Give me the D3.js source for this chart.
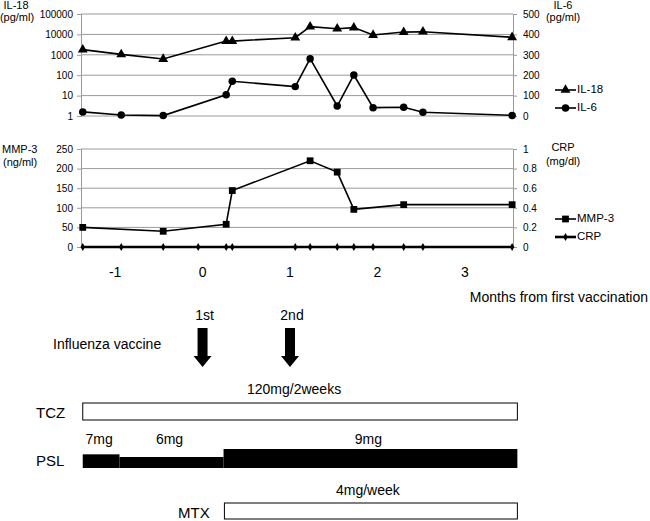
<!DOCTYPE html>
<html><head><meta charset="utf-8">
<script src="https://cdn.jsdelivr.net/npm/d3@7"></script>
<style>body{margin:0;background:#fff}svg{font-family:"Liberation Sans",Arial,sans-serif}</style>
</head><body><svg id="c" width="650" height="521"></svg>
<script>
// ---- data ----
const months = [-1.37,-0.93,-0.45,-0.05,0.27,0.34,1.06,1.23,1.54,1.73,1.95,2.30,2.52,3.54];
const il18 = [1800,1050,620,null,4700,4700,6900,24000,19000,21500,9300,13000,13600,7200];
const il6  = [20,5,2,null,104,170,144,281,49,201,41,43,18,3];
const mmp3 = [50,null,40,null,58,144,null,220,191,96,null,108,null,108];
const crp  = [0,0,0,0,0,0,0,0,0,0,0,0,0,0];
const il18Ticks = [1,10,100,1000,10000,100000];
const il6Ticks = [0,100,200,300,400,500];
const mmpTicks = [0,50,100,150,200,250];
const crpTicks = [0,0.2,0.4,0.6,0.8,1];
const monthTicks = [-1,0,1,2,3];
const vaccinations = [{label:"1st",m:0},{label:"2nd",m:1}];
const tcz = {start:-1.37,end:3.6,label:"120mg/2weeks"};
const psl = [{start:-1.37,end:-0.95,dose:7},{start:-0.95,end:0.24,dose:6},{start:0.24,end:3.6,dose:9}];
const mtx = {start:0.25,end:3.6,label:"4mg/week"};

// ---- layout ----
const svg = d3.select("#c");
const L = 81, R = 513;
const x = d3.scaleLinear().domain([-1.39,3.55]).range([L,R]);
const grid = "#9a9a9a";

const yTop = d3.scaleLog().domain([1,100000]).range([116,14]);
const yTopR = d3.scaleLinear().domain([0,500]).range([116,14]);
const yBot = d3.scaleLinear().domain([0,250]).range([247,149]);
const yBotR = d3.scaleLinear().domain([0,1]).range([247,149]);

function panel(yl, yr, lt, rt, lfmt){
  const g = svg.append("g");
  g.selectAll("line.g").data(lt).join("line")
    .attr("x1",L).attr("x2",R).attr("y1",d=>yl(d)).attr("y2",d=>yl(d))
    .attr("stroke",grid).attr("stroke-width",1);
  const ax = svg.append("g").attr("transform",`translate(${L},0)`)
    .call(d3.axisLeft(yl).tickValues(lt).tickSize(4).tickFormat(lfmt));
  const axr = svg.append("g").attr("transform",`translate(${R},0)`)
    .call(d3.axisRight(yr).tickValues(rt).tickSize(4).tickFormat(d=>String(d)));
  [ax,axr].forEach(a=>{
    a.select(".domain").attr("stroke",grid);
    a.selectAll(".tick line").attr("stroke",grid);
    a.selectAll(".tick text").attr("font-size",10).attr("fill","#000")
     .attr("font-family","Liberation Sans, Arial, sans-serif");
  });
  ax.selectAll(".tick text").attr("x",-8);
  axr.selectAll(".tick text").attr("x",10);
}
panel(yTop,yTopR,il18Ticks,il6Ticks,d=>String(d));
panel(yBot,yBotR,mmpTicks,crpTicks,d=>String(d));

function series(vals, y, sym, sw){
  const pts = months.map((m,i)=>({m,v:vals[i]})).filter(d=>d.v!==null);
  svg.append("path").datum(pts)
    .attr("d",d3.line().x(d=>x(d.m)).y(d=>y(d.v)))
    .attr("fill","none").attr("stroke","#000").attr("stroke-width",sw);
  svg.append("g").selectAll("path").data(pts).join("path")
    .attr("transform",d=>`translate(${x(d.m)},${y(d.v)})`)
    .attr("d",d3.symbol(sym.type,sym.size)).attr("fill","#000");
}
const TRI = {type:d3.symbolTriangle,size:42};
const CIR = {type:d3.symbolCircle,size:44};
const SQ = {type:d3.symbolSquare,size:46};
const DIA = {type:d3.symbolDiamond,size:18};
series(il18,yTop,TRI,1.6);
series(il6,yTopR,CIR,1.6);
series(mmp3,yBot,SQ,1.6);
series(crp,yBotR,DIA,2.6);

// axis titles
function txt(t,xx,yy,size,anchor){
  return svg.append("text").attr("x",xx).attr("y",yy).attr("font-size",size)
    .attr("text-anchor",anchor||"start").attr("dominant-baseline","middle").attr("fill","#000").text(t);
}
txt("IL-18",16,6,11,"middle"); txt("(pg/ml)",17,18,11,"middle");
txt("IL-6",563,6,11,"middle"); txt("(pg/ml)",563,18,11,"middle");
txt("MMP-3",2,150,11); txt("(ng/ml)",3,163,11);
txt("CRP",563,148,11,"middle"); txt("(mg/dl)",563,162,11,"middle");

// legends
function legend(label,yy,sym,sw){
  svg.append("line").attr("x1",555).attr("x2",576).attr("y1",yy).attr("y2",yy)
    .attr("stroke","#000").attr("stroke-width",sw);
  svg.append("path").attr("transform",`translate(565.5,${yy})`)
    .attr("d",d3.symbol(sym.type,sym.size)).attr("fill","#000");
  txt(label,577,yy,11.5);
}
legend("IL-18",90,TRI,1.6); legend("IL-6",108,CIR,1.6);
legend("MMP-3",219,SQ,1.6); legend("CRP",237,DIA,2.6);

// x tick labels
svg.append("g").selectAll("text").data(monthTicks).join("text")
  .attr("x",d=>x(d)).attr("y",273).attr("text-anchor","middle").attr("dominant-baseline","middle")
  .attr("font-size",14).text(d=>String(d));
txt("Months from first vaccination",648,298,14,"end");

// vaccination arrows
txt("Influenza vaccine",53,345,14);
vaccinations.forEach(v=>{
  const cx = x(v.m);
  txt(v.label,cx+2,316,14,"middle");
  svg.append("path").attr("d",
    `M${cx-5},328 L${cx+5},328 L${cx+5},356 L${cx+9},356 L${cx},367 L${cx-9},356 L${cx-5},356 Z`)
    .attr("fill","#000");
});

// TCZ
txt("TCZ",36,414,15);
svg.append("rect").attr("x",x(tcz.start)).attr("y",403).attr("width",x(tcz.end)-x(tcz.start)).attr("height",17)
  .attr("fill","#fff").attr("stroke","#000").attr("stroke-width",1);
txt(tcz.label,(x(tcz.start)+x(tcz.end))/2-6,390,14,"middle");

// PSL
txt("PSL",36,462,15);
const h = d3.scaleLinear().domain([6,9]).range([11,19]);
psl.forEach(p=>{
  svg.append("rect").attr("x",x(p.start)).attr("y",468-h(p.dose)).attr("width",x(p.end)-x(p.start))
    .attr("height",h(p.dose)).attr("fill","#000");
  txt(p.dose+"mg",(x(p.start)+x(p.end))/2-2,440,14,"middle");
});

// MTX
txt("MTX",178,514,15);
svg.append("rect").attr("x",x(mtx.start)).attr("y",503).attr("width",x(mtx.end)-x(mtx.start)).attr("height",16)
  .attr("fill","#fff").attr("stroke","#000").attr("stroke-width",1);
txt(mtx.label,(x(mtx.start)+x(mtx.end))/2-3,491,14,"middle");
</script></body></html>
